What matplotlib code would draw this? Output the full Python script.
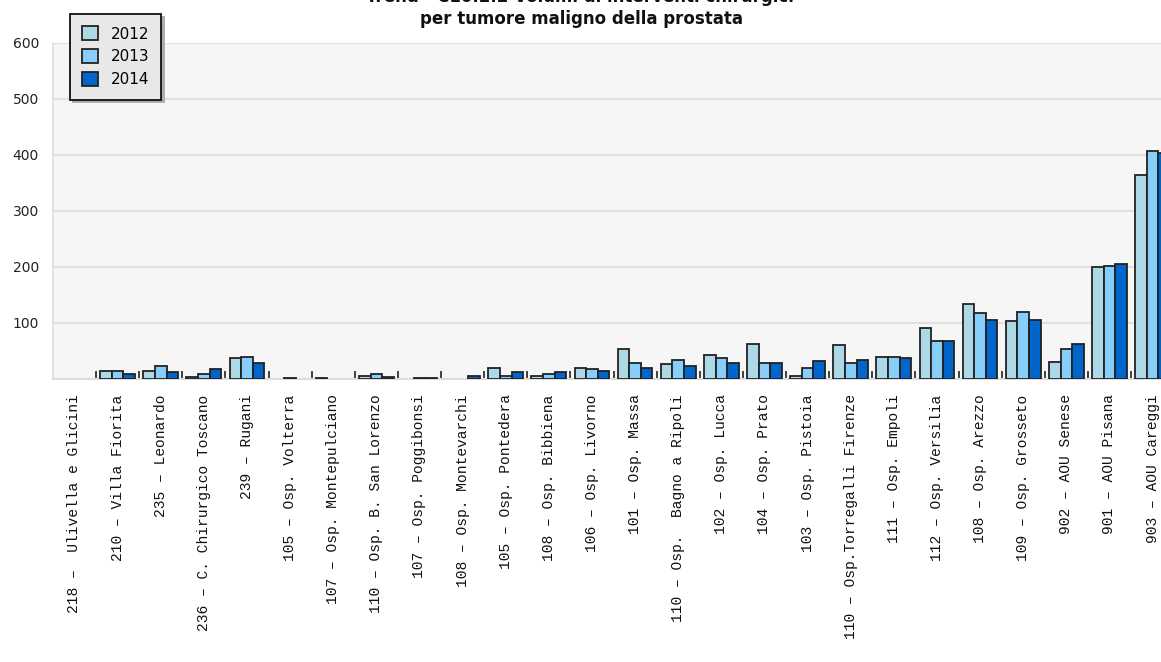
import numpy as np
import matplotlib
matplotlib.use("Agg")
import matplotlib.pyplot as plt

nan = np.nan

# hospitals (x axis), left to right
hospitals = [
    "218 –  Ulivella e Glicini",
    "210 – Villa Fiorita",
    "235 – Leonardo",
    "236 – C. Chirurgico Toscano",
    "239 – Rugani",
    "105 – Osp. Volterra",
    "107 – Osp. Montepulciano",
    "110 – Osp. B. San Lorenzo",
    "107 – Osp. Poggibonsi",
    "108 – Osp. Montevarchi",
    "105 – Osp. Pontedera",
    "108 – Osp. Bibbiena",
    "106 – Osp. Livorno",
    "101 – Osp. Massa",
    "110 – Osp.  Bagno a Ripoli",
    "102 – Osp. Lucca",
    "104 – Osp. Prato",
    "103 – Osp. Pistoia",
    "110 – Osp.Torregalli Firenze",
    "111 – Osp. Empoli",
    "112 – Osp. Versilia",
    "108 – Osp. Arezzo",
    "109 – Osp. Grosseto",
    "902 – AOU Senese",
    "901 – AOU Pisana",
    "903 – AOU Careggi",
]

vol_2012 = [nan, 15, 15, 3, 37, nan, 2, 5, nan, nan, 20, 5, 20, 54, 26, 43, 63, 5, 60, 40, 91, 134, 103, 31, 200, 365]
vol_2013 = [nan, 15, 23, 9, 40, 2, nan, 9, 2, nan, 5, 9, 17, 29, 34, 37, 29, 20, 28, 40, 68, 117, 120, 54, 202, 408]
vol_2014 = [nan, 9, 12, 18, 29, nan, nan, 3, 2, 5, 12, 12, 14, 20, 23, 29, 29, 32, 34, 37, 68, 105, 105, 63, 205, 403]

years = ["2012", "2013", "2014"]
colors = ["#add8e6", "#87cefa", "#0066cc"]
y_ticks = [100, 200, 300, 400, 500, 600]

W, H = 1161, 662
fig = plt.figure(figsize=(W / 100, H / 100), dpi=100)

# plot area runs past the right edge of the image, like the original crop
cat_w = 43.125
left_px, top_px, base_px = 52.9, 43, 379
ax = fig.add_axes([left_px / W, (H - base_px) / H,
                   len(hospitals) * cat_w / W, (base_px - top_px) / H])
ax.set_facecolor("#f6f6f6")

x = np.arange(len(hospitals))
bw = 0.269
for i, (vals, col, lab) in enumerate(zip([vol_2012, vol_2013, vol_2014], colors, years)):
    ax.bar(x + (i - 1) * bw, vals, width=bw, color=col, edgecolor="#222222",
           linewidth=1.3, label=lab, zorder=3)

ax.set_xlim(-0.5, len(hospitals) - 0.5)
ax.set_ylim(0, 600)
ax.set_yticks(y_ticks)
ax.set_yticklabels([str(v) for v in y_ticks], fontsize=10, color="#222222")
ax.tick_params(axis="y", length=0, pad=10)
ax.grid(axis="y", color="#e0e0e0", linewidth=1.5, zorder=0)

ax.set_xticks(x)
ax.set_xticklabels(hospitals, rotation=90, va="top", ha="center",
                   family="Liberation Mono", fontsize=10.5, color="#111111")
ax.tick_params(axis="x", which="major", length=0, pad=11)
ax.set_xticks(np.arange(0.5, len(hospitals) - 1, 1), minor=True)
ax.tick_params(axis="x", which="minor", direction="in", length=5.5,
               width=1.3, color="#333333")

for side in ["top", "right"]:
    ax.spines[side].set_visible(False)
ax.spines["left"].set_color("#dddddd")
ax.spines["bottom"].set_color("#dddddd")
ax.spines["left"].set_linewidth(1.2)
ax.spines["bottom"].set_linewidth(1.5)

# title (first line is cut by the top edge in the original)
fig.text(580 / W, 1 + 3 / H, "Trend - C10.2.2 Volumi di interventi chirurgici",
         ha="center", va="center", fontsize=12, fontweight="bold", color="#111111")
fig.text(581 / W, 1 - 19 / H, "per tumore maligno della prostata",
         ha="center", va="center", fontsize=12, fontweight="bold", color="#111111")

leg = fig.legend(loc="upper left", bbox_to_anchor=(70 / W, 1 - 14 / H),
                 borderaxespad=0, fontsize=11, frameon=True, fancybox=False,
                 shadow={"color": "#aaaaaa", "alpha": 1.0},
                 handlelength=1.05, handleheight=1.05, handletextpad=0.8,
                 labelspacing=0.5, borderpad=0.8)
leg.get_frame().set_facecolor("#e8e8e8")
leg.get_frame().set_edgecolor("#111111")
leg.get_frame().set_linewidth(1.3)
leg.get_frame().set_alpha(1.0)

fig.savefig("out.png", dpi=100)
